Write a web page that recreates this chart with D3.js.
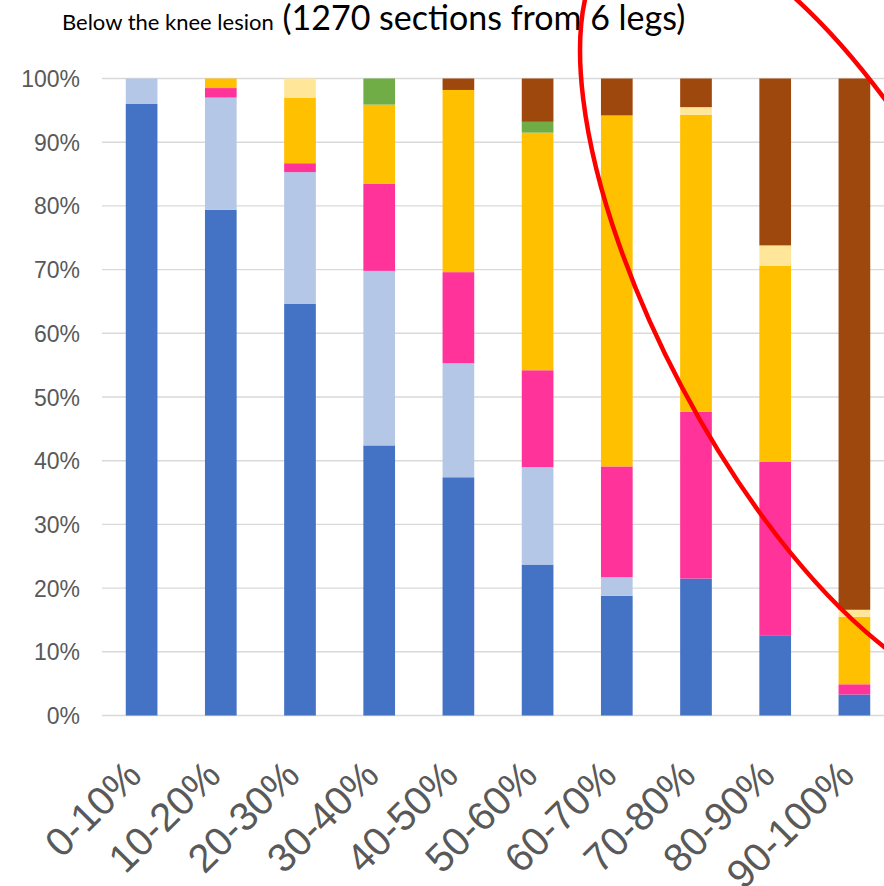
<!DOCTYPE html>
<html>
<head>
<meta charset="utf-8">
<script src="https://cdn.jsdelivr.net/npm/d3@7"></script>
<style>
  html, body { margin: 0; padding: 0; background: #ffffff; }
  svg { display: block; }
  .lbl { font-family: "Liberation Sans", Arial, Helvetica, sans-serif; }
</style>
</head>
<body>
<svg id="chart" width="884" height="886"></svg>
<script>
// Position along the leg, binned in tenths
const categories = ["0-10%", "10-20%", "20-30%", "30-40%", "40-50%",
                    "50-60%", "60-70%", "70-80%", "80-90%", "90-100%"];

// Share of sections (%) in each class, stacked bottom to top
const classA = [96.0, 79.4, 64.6, 42.4, 37.4, 23.7, 18.8, 21.5, 12.6, 3.3];
const classB = [4.0, 17.6, 20.7, 27.4, 17.9, 15.3, 2.9, 0, 0, 0];
const classC = [0, 1.5, 1.4, 13.7, 14.3, 15.2, 17.4, 26.2, 27.2, 1.6];
const classD = [0, 1.5, 10.3, 12.4, 28.6, 37.3, 55.1, 46.6, 30.8, 10.6];
const classE = [0, 0, 3.0, 0, 0, 0, 0, 1.2, 3.2, 1.1];
const classF = [0, 0, 0, 4.1, 0, 1.7, 0, 0, 0, 0];
const classG = [0, 0, 0, 0, 1.8, 6.8, 5.8, 4.5, 26.2, 83.4];

const seriesNames = ["A", "B", "C", "D", "E", "F", "G"];
const seriesValues = [classA, classB, classC, classD, classE, classF, classG];
const seriesColors = ["#4472C4", "#B4C7E7", "#FF3399", "#FFC000", "#FFE699", "#70AD47", "#9E480E"];

const yTicks = [0, 10, 20, 30, 40, 50, 60, 70, 80, 90, 100];

const titleSmall = "Below the knee lesion";
const titleLarge = "(1270 sections from 6 legs)";

// Rows for d3.stack
const rows = categories.map((c, i) => {
  const r = { category: c };
  seriesNames.forEach((k, j) => { r[k] = seriesValues[j][i]; });
  return r;
});

const svg = d3.select("#chart");

const plot = { left: 102, right: 894, top: 78.5, bottom: 715.5 };

const x = d3.scaleBand()
  .domain(categories)
  .range([plot.left, plot.right])
  .paddingInner(0.6)
  .paddingOuter(0.3);

const y = d3.scaleLinear()
  .domain([0, 100])
  .range([plot.bottom, plot.top]);

const color = d3.scaleOrdinal().domain(seriesNames).range(seriesColors);

// Gridlines
svg.append("g")
  .selectAll("line")
  .data(yTicks)
  .join("line")
  .attr("x1", plot.left)
  .attr("x2", 884)
  .attr("y1", d => y(d))
  .attr("y2", d => y(d))
  .attr("stroke", "#D9D9D9")
  .attr("stroke-width", 1.4);

// Y axis labels
const yAxis = d3.axisLeft(y)
  .tickValues(yTicks)
  .tickFormat(d => d + "%")
  .tickSize(0)
  .tickPadding(0);

svg.append("g")
  .attr("transform", `translate(80,0)`)
  .call(yAxis)
  .attr("font-family", null)
  .attr("font-size", null)
  .call(g => g.select(".domain").remove())
  .call(g => g.selectAll("text")
    .attr("class", "lbl")
    .attr("fill", "#595959")
    .style("font-size", "23px")
    .attr("x", 0)
    .attr("dy", "0.35em"));

// Stacked bars
const stacked = d3.stack().keys(seriesNames)(rows);

svg.append("g")
  .selectAll("g")
  .data(stacked)
  .join("g")
  .attr("fill", d => color(d.key))
  .selectAll("rect")
  .data(d => d)
  .join("rect")
  .attr("x", d => x(d.data.category))
  .attr("width", x.bandwidth())
  .attr("y", d => y(d[1]))
  .attr("height", d => Math.max(0, y(d[0]) - y(d[1])));

// X axis labels, rotated
const xAxis = d3.axisBottom(x).tickSize(0).tickPadding(0);
svg.append("g")
  .attr("transform", `translate(0,${plot.bottom})`)
  .call(xAxis)
  .attr("font-family", null)
  .attr("font-size", null)
  .call(g => g.select(".domain").remove())
  .call(g => g.selectAll(".tick text")
    .attr("class", "lbl")
    .attr("fill", "#595959")
    .style("font-size", "40px")
    .attr("text-anchor", "end")
    .attr("y", 0)
    .attr("dy", 0)
    .attr("transform", "translate(2,62) rotate(-45)"));

// Title
const title = svg.append("text")
  .attr("x", 62)
  .attr("y", 30)
  .attr("font-family", "Lato, 'Noto Sans', sans-serif")
  .attr("fill", "#000000");
title.append("tspan").attr("font-size", 22).text(titleSmall);
title.append("tspan").attr("font-size", 34).text(" " + titleLarge);

// Red highlight ellipse drawn over the right-hand bars
svg.append("ellipse")
  .attr("cx", 826)
  .attr("cy", 311)
  .attr("rx", 426)
  .attr("ry", 163)
  .attr("transform", "rotate(62.1 826 311)")
  .attr("fill", "none")
  .attr("stroke", "#FF0000")
  .attr("stroke-width", 4.5);
</script>
</body>
</html>
